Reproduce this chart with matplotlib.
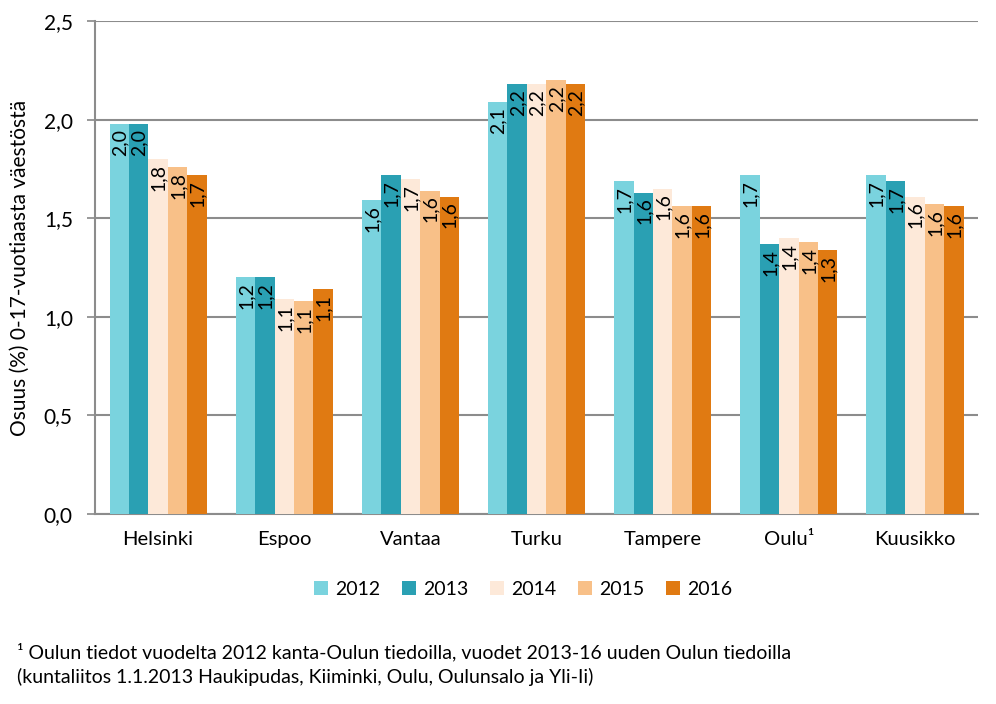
import numpy as np
import matplotlib
matplotlib.use('Agg')
import matplotlib.pyplot as plt

plt.rcParams['font.family'] = ['Lato', 'DejaVu Sans']

# Data (share of 0-17 year olds, %)
cities = ['Helsinki', 'Espoo', 'Vantaa', 'Turku', 'Tampere', 'Oulu¹', 'Kuusikko']
years = ['2012', '2013', '2014', '2015', '2016']
v2012 = [1.98, 1.20, 1.59, 2.09, 1.69, 1.72, 1.72]
v2013 = [1.98, 1.20, 1.72, 2.18, 1.63, 1.37, 1.69]
v2014 = [1.80, 1.09, 1.70, 2.18, 1.65, 1.40, 1.61]
v2015 = [1.76, 1.08, 1.64, 2.20, 1.56, 1.38, 1.57]
v2016 = [1.72, 1.14, 1.61, 2.18, 1.56, 1.34, 1.56]
colors = ['#7AD3DE', '#2AA0B3', '#FDE9D9', '#F8C088', '#E07A12']

series = [v2012, v2013, v2014, v2015, v2016]

fig = plt.figure(figsize=(9.96, 7.04), dpi=100)
ax = fig.add_axes([0.0954, 0.270, 0.8866, 0.700])

x = np.arange(len(cities))
w = 1 / 6.5
for k, (vals, col, yr) in enumerate(zip(series, colors, years)):
    pos = x + (k - 2) * w
    ax.bar(pos, vals, width=w, color=col, label=yr, zorder=3)
    for px, v in zip(pos, vals):
        ax.text(px + 0.005, v - 0.025, f'{v:.1f}'.replace('.', ','), rotation=90,
                ha='center', va='top', fontsize=14, zorder=4)

ax.set_xlim(-0.5, len(cities) - 0.5)
ax.set_ylim(0, 2.5)
ticks = np.arange(0, 2.51, 0.5)
ax.set_yticks(ticks)
ax.set_yticklabels([f'{t:.1f}'.replace('.', ',') for t in ticks], fontsize=15)
ax.set_xticks(x)
ax.set_xticklabels(cities, fontsize=14.5)
ax.tick_params(axis='x', length=0, pad=12)
ax.tick_params(axis='y', length=6, color='#888888', width=1.2, pad=10)
ax.yaxis.grid(True, color='#8c8c8c', linewidth=1.5, zorder=0)
for s in ['top', 'right']:
    ax.spines[s].set_visible(False)
for s in ['left', 'bottom']:
    ax.spines[s].set_color('#8c8c8c')
    ax.spines[s].set_linewidth(1.5)

ax.set_ylabel('Osuus (%) 0-17-vuotiaasta väestöstä', fontsize=15, labelpad=10)

ax.legend(loc='upper center', bbox_to_anchor=(0.485, -0.10), ncol=5, frameon=False,
          fontsize=14, handlelength=0.7, handleheight=0.7, columnspacing=1.1,
          handletextpad=0.4)

fig.text(0.017, 0.074, '¹ Oulun tiedot vuodelta 2012 kanta-Oulun tiedoilla, '
         'vuodet 2013-16 uuden Oulun tiedoilla', fontsize=14, va='center')
fig.text(0.017, 0.038, '(kuntaliitos 1.1.2013 Haukipudas, Kiiminki, Oulu, Oulunsalo ja Yli-Ii)',
         fontsize=14, va='center')

plt.savefig('out.png', dpi=100)
